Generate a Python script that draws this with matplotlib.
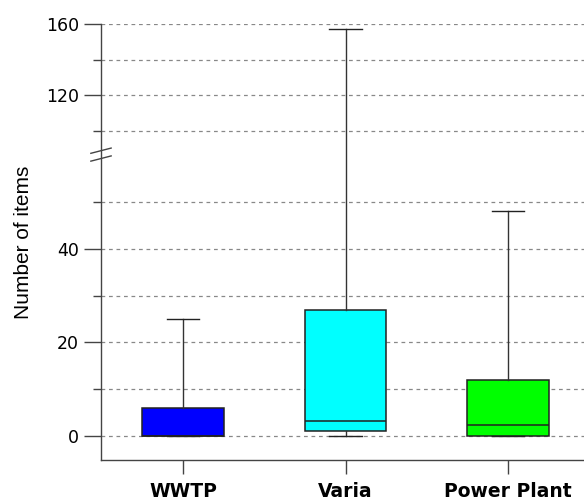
import numpy as np
import matplotlib
matplotlib.use("Agg")
import matplotlib.pyplot as plt

plt.rcParams['font.family'] = ['DejaVu Sans']

# box statistics per group
groups = ["WWTP", "Varia", "Power Plant"]
q1 = [0, 1, 0]
median = [0, 3.3, 2.3]
q3 = [6, 27, 12]
whisker_low = [0, 0, 0]
whisker_high = [25, 157, 48]
colors = ["#0000FF", "#00FFFF", "#00FF00"]

major_ticks = [0, 20, 40, 120, 160]
minor_ticks = [10, 30, 50, 100, 140]

# broken y axis: lower part up to 60, upper part from ~86.6, upper part squeezed
brk_lo, brk_hi, upper_ratio = 60.0, 86.6, 0.381
xp = np.array([-1000.0, brk_lo, brk_hi, 1000.0])
fp = np.array([-1000.0, brk_lo, brk_lo + 0.01,
               brk_lo + 0.01 + (1000.0 - brk_hi) * upper_ratio])


def fwd(v):
    return np.interp(v, xp, fp)


def inv(v):
    return np.interp(v, fp, xp)


fig = plt.figure(figsize=(5.84, 5.03), dpi=100)
ax = fig.add_axes([101 / 584, 43 / 503, 483 / 584, 436 / 503])
ax.set_yscale('function', functions=(fwd, inv))

stats = []
for i, g in enumerate(groups):
    stats.append(dict(label=g, q1=q1[i], med=median[i], q3=q3[i],
                      whislo=whisker_low[i], whishi=whisker_high[i], fliers=[]))

edge = "#222222"
bp = ax.bxp(stats, positions=[1, 2, 3], widths=0.5, patch_artist=True,
            showfliers=False,
            boxprops=dict(linewidth=1.1, edgecolor=edge),
            medianprops=dict(color=edge, linewidth=1.1),
            whiskerprops=dict(color='#333333', linewidth=1.0),
            capprops=dict(color=edge, linewidth=1.0),
            capwidths=0.2)
for patch, c in zip(bp['boxes'], colors):
    patch.set_facecolor(c)
for artist in bp['boxes'] + bp['medians'] + bp['whiskers'] + bp['caps']:
    artist.set_zorder(3)

ax.set_xlim(0.495, 3.468)
ax.set_ylim(-5.1, 160)

ax.set_yticks(major_ticks)
ax.set_yticks(minor_ticks, minor=True)
ax.set_yticklabels([str(t) for t in major_ticks], fontsize=12.5)
ax.set_xticks([1, 2, 3])
ax.set_xticklabels(groups, fontsize=13.5, fontweight='bold')

ax.grid(True, which='both', axis='y', linestyle=(0, (3, 3)), color='#888888',
        linewidth=0.9, zorder=0)
ax.set_axisbelow(True)

ax.tick_params(axis='y', which='major', length=12, width=1, color='#444444', pad=4)
ax.tick_params(axis='y', which='minor', length=6, width=1, color='#444444')
ax.tick_params(axis='x', length=10, width=1, color='#444444', direction='out', pad=6)

for side in ['top', 'right']:
    ax.spines[side].set_visible(False)
for side in ['left', 'bottom']:
    ax.spines[side].set_color('#444444')
    ax.spines[side].set_linewidth(1.0)

ax.set_ylabel("Number of items", fontsize=15, family='Liberation Sans')
ax.yaxis.set_label_coords(-0.14, 0.5)

# break marks on the y axis
fig.canvas.draw()
_, yb = ax.transAxes.inverted().transform(ax.transData.transform((1, brk_lo)))
dx, dy = 0.021, 0.006
for off in (0.01, -0.008):
    ax.plot([-dx, dx], [yb + off - dy, yb + off + dy], transform=ax.transAxes,
            color='#444444', linewidth=1.0, clip_on=False, zorder=5)

fig.savefig("out.png", dpi=100)
